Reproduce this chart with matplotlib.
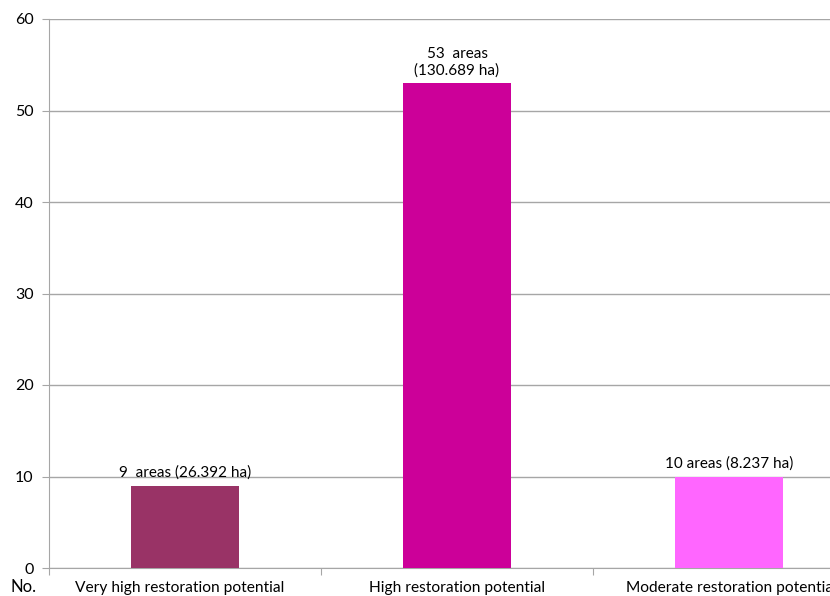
import numpy as np
import matplotlib.pyplot as plt

plt.rcParams['font.family'] = ['Lato', 'DejaVu Sans']

categories = ["Very high restoration potential", "High restoration potential",
              "Moderate restoration potential"]
counts = [9, 53, 10]
bar_labels = ["9  areas (26.392 ha)", "53  areas\n(130.689 ha)", "10 areas (8.237 ha)"]
colors = ["#993366", "#CC0099", "#FF66FF"]

fig = plt.figure(figsize=(8.3, 5.96), dpi=100)
# the original chart is cut off at the right edge
ax = fig.add_axes([49 / 830, 28 / 596, 816 / 830, 549 / 596])

x = np.arange(len(categories))
ax.bar(x, counts, width=0.4, color=colors, zorder=3)

for xi, c, lab in zip(x, counts, bar_labels):
    ax.annotate(lab, (xi, c), xytext=(0, 4), textcoords="offset points",
                ha="center", va="bottom", fontsize=11, linespacing=1.2)

ax.set_xlim(-0.5, 2.5)
ax.set_ylim(0, 60)
ax.set_yticks(np.arange(0, 61, 10))
ax.yaxis.grid(True, color="#a6a6a6", linewidth=1, zorder=0)
ax.set_xticks([-0.5, 0.5, 1.5, 2.5])
ax.set_xticklabels([])
ax.tick_params(axis="x", length=5, color="#a6a6a6", direction="out")
ax.tick_params(axis="y", length=5, color="#a6a6a6", direction="out",
               labelsize=11.5, pad=6)
label_shift = [-0.018, 0, 0.01]
for xi, cat, dx in zip(x, categories, label_shift):
    ax.text(xi + dx, -1.4, cat, ha="center", va="top", fontsize=11.2,
            clip_on=False)
fig.text(10 / 830, 1 - 579 / 596, "No.", ha="left", va="top", fontsize=12)

for s in ["top", "right"]:
    ax.spines[s].set_visible(False)
for s in ["left", "bottom"]:
    ax.spines[s].set_color("#a6a6a6")

fig.savefig("out.png", dpi=100)
